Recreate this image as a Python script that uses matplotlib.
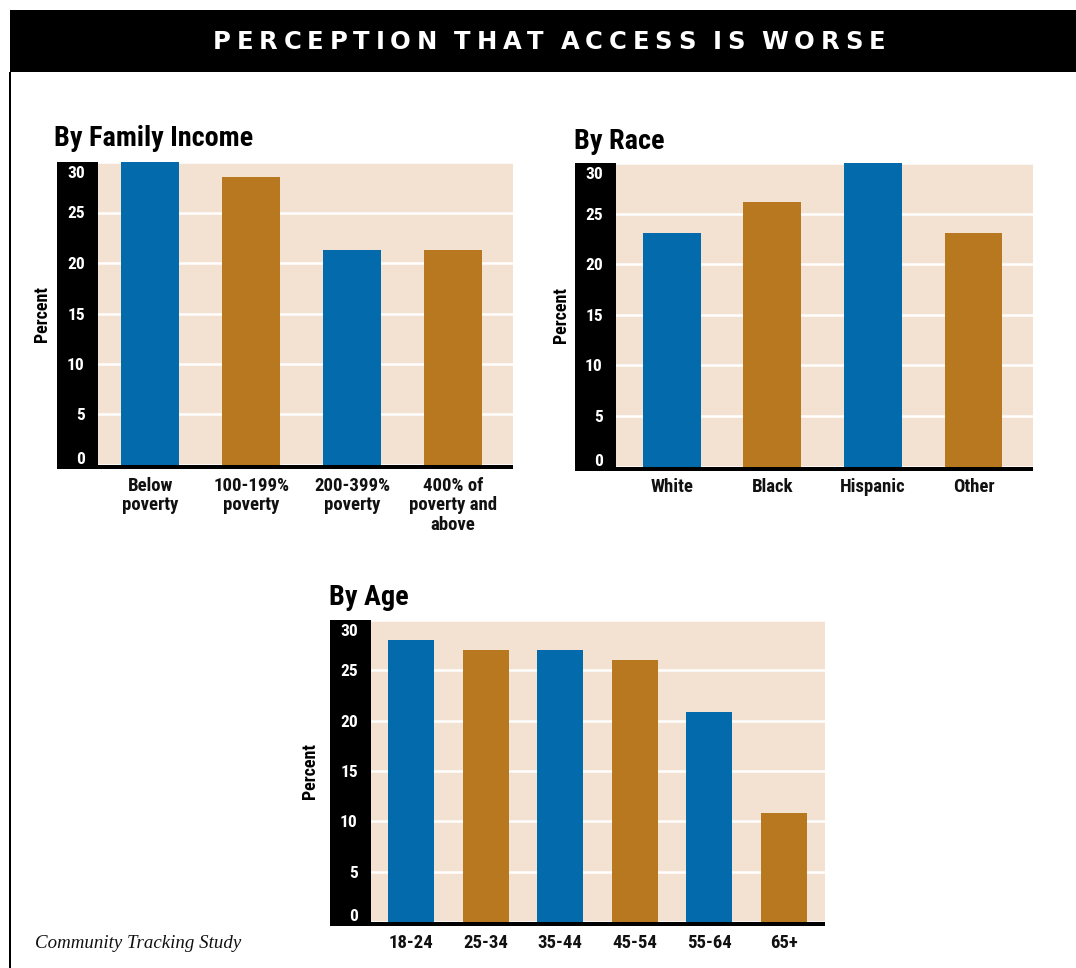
import matplotlib
matplotlib.use('Agg')
import matplotlib.pyplot as plt
from matplotlib import font_manager as fm
from matplotlib.patches import Rectangle
from matplotlib.font_manager import FontProperties
from matplotlib.transforms import ScaledTranslation

W, H, DPI = 1076, 968, 100

# ---------------- data ----------------
title_text = "PERCEPTION THAT ACCESS IS WORSE"
footer_text = "Community Tracking Study"
ylabel_text = "Percent"

income_title = "By Family Income"
income_labels = ["Below\npoverty", "100-199%\npoverty", "200-399%\npoverty", "400% of\npoverty and\nabove"]
income_values = [30, 28.5, 21.3, 21.3]

race_title = "By Race"
race_labels = ["White", "Black", "Hispanic", "Other"]
race_values = [23.1, 26.1, 30, 23.1]

age_title = "By Age"
age_labels = ["18-24", "25-34", "35-44", "45-54", "55-64", "65+"]
age_values = [28, 27, 27, 26, 20.9, 10.8]

y_ticks = [0, 5, 10, 15, 20, 25, 30]

# ---------------- style ----------------
BLUE = '#036AAB'
GOLD = '#B8781F'
BEIGE = '#F3E2D2'

ttf = fm.fontManager.ttflist
avail = {f.name for f in ttf}
cond_family = 'DejaVu Sans'
for cand in ['Roboto Condensed', 'Liberation Sans Narrow', 'Noto Sans Condensed']:
    if cand in avail:
        cond_family = cand
        break


def cfp(size):
    return FontProperties(family=[cond_family, 'DejaVu Sans'], weight='bold', size=size)


fig = plt.figure(figsize=(W / DPI, H / DPI), dpi=DPI)
fig.patch.set_facecolor('white')


def px_axes(x0, y0, x1, y1):
    return fig.add_axes([x0 / W, 1 - y1 / H, (x1 - x0) / W, (y1 - y0) / H])


def panel(rect, labels, values, xlim, width, ylabel_x):
    x0, y0, x1, y1 = rect
    ax = px_axes(*rect)
    ax.set_facecolor(BEIGE)
    xs = list(range(len(values)))
    colors = [BLUE if i % 2 == 0 else GOLD for i in xs]
    ax.bar(xs, values, width=width, color=colors, zorder=1)
    ax.set_xlim(*xlim)
    ax.set_ylim(0, 30)
    ax.set_axisbelow(True)
    ax.grid(axis='y', color='white', lw=1.8)
    ax.grid(axis='x', visible=False)
    for s in ax.spines.values():
        s.set_visible(False)
    ax.set_yticks(y_ticks)
    ax.set_xticks(xs)
    ax.set_xticklabels(labels, fontproperties=cfp(13.5), linespacing=1.1)
    ax.set_yticklabels([str(v) for v in y_ticks], fontproperties=cfp(12.5))
    ax.tick_params(axis='y', length=0, pad=9.5, labelcolor='white')
    ax.tick_params(axis='x', length=0, pad=8.5, labelcolor='#111111')
    ylabs = ax.get_yticklabels()
    ylabs[0].set_verticalalignment('bottom')
    ylabs[0].set_transform(ylabs[0].get_transform()
                           + ScaledTranslation(0, -2 / DPI, fig.dpi_scale_trans))
    ylabs[-1].set_verticalalignment('top')
    ylabs[-1].set_transform(ylabs[-1].get_transform()
                            + ScaledTranslation(0, -4 / DPI, fig.dpi_scale_trans))
    sw = 41 / (x1 - x0)
    bh = 4 / (y1 - y0)
    ax.add_patch(Rectangle((-sw, -bh), sw, 1 + bh, transform=ax.transAxes,
                           facecolor='black', edgecolor='none', clip_on=False, zorder=0.2))
    ax.add_patch(Rectangle((-sw, -bh), 1 + sw, bh, transform=ax.transAxes,
                           facecolor='black', edgecolor='none', clip_on=False, zorder=3))
    ax.set_ylabel(ylabel_text, fontproperties=cfp(13))
    ax.yaxis.set_label_coords((ylabel_x - x0) / (x1 - x0), 0.5)
    ax.yaxis.label.set_verticalalignment('center')
    return ax


ax1 = panel((98, 162, 513, 465), income_labels, income_values, (-0.52, 3.595), 0.575, 42)
ax2 = panel((616, 163, 1033, 466.5), race_labels, race_values, (-0.557, 3.592), 0.577, 561)
ax3 = panel((371, 620, 825, 922), age_labels, age_values, (-0.536, 5.55), 0.617, 310)

# panel titles
fig.text(54 / W, 1 - 146 / H, income_title, fontproperties=cfp(20.3), va='baseline', ha='left')
fig.text(574 / W, 1 - 149 / H, race_title, fontproperties=cfp(20.3), va='baseline', ha='left')
fig.text(329 / W, 1 - 605 / H, age_title, fontproperties=cfp(20.3), va='baseline', ha='left')

# frame: title bar + left rule
fig.patches.append(Rectangle((10 / W, 1 - 72 / H), 1 - 10 / W, 62 / H, transform=fig.transFigure,
                             facecolor='black', edgecolor='none', zorder=0))
fig.patches.append(Rectangle((9 / W, 0), 2 / W, 1 - 72 / H, transform=fig.transFigure,
                             facecolor='black', edgecolor='none', zorder=0))

# letter-spaced title
renderer = fig.canvas.get_renderer()
tfp = FontProperties(family='DejaVu Sans', weight='bold', size=17.5)
widths = []
for ch in title_text:
    t = fig.text(0, 0, ch if ch != ' ' else 'I', fontproperties=tfp)
    bb = t.get_window_extent(renderer)
    widths.append(bb.width if ch != ' ' else bb.width * 0.6)
    t.remove()
target_left, target_right = 213, 885
n = len(title_text)
track = (target_right - target_left - sum(widths)) / (n - 1)
xpos = target_left
for ch, w in zip(title_text, widths):
    if ch != ' ':
        fig.text(xpos / W, 1 - 42 / H, ch, fontproperties=tfp, color='white',
                 ha='left', va='center')
    xpos += w + track

# footer
fig.text(35 / W, 1 - 943 / H, footer_text, family='Liberation Serif', style='italic',
         size=13.6, va='center', ha='left', color='#111111')

fig.savefig('out.png', dpi=DPI)
